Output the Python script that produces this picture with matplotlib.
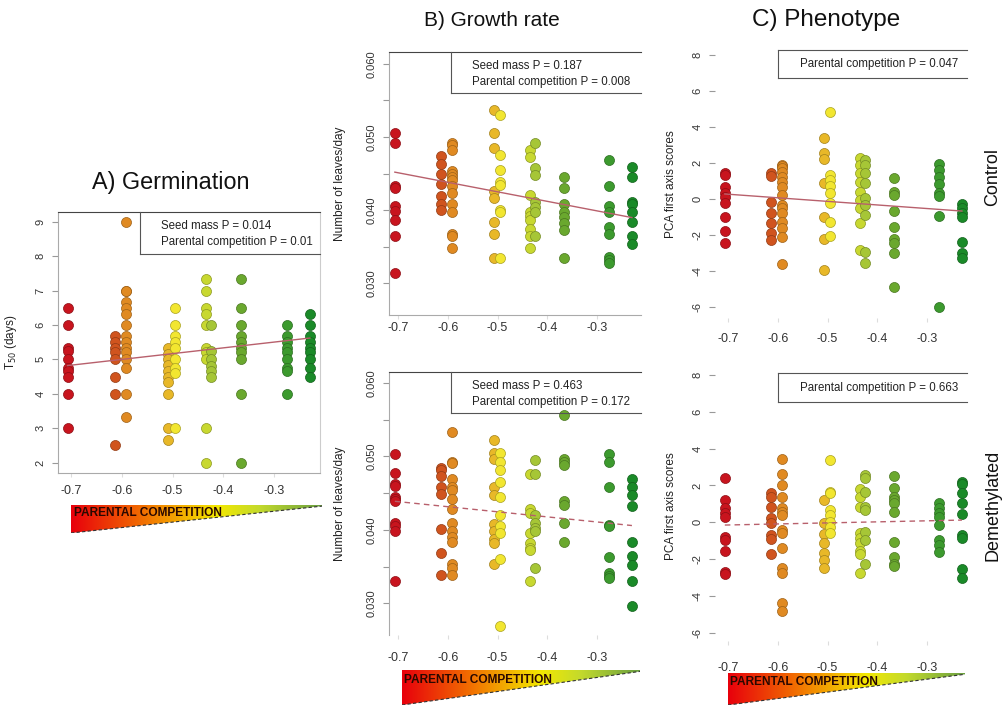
import numpy as np
import matplotlib.pyplot as plt
from matplotlib.colors import LinearSegmentedColormap, to_rgb
from matplotlib.patches import Polygon
from matplotlib.lines import Line2D

W, H = 1003, 706

# parental competition index of the 10 parent groups
parent_x = [-0.707, -0.613, -0.592, -0.508, -0.495, -0.434, -0.425, -0.365, -0.275, -0.229]
group_colors = ['#c8141e', '#d0541e', '#e08a22', '#e8b828', '#f2e630',
                '#c8d830', '#a6c636', '#6aa82e', '#3c9a2e', '#1a8a28']

germ = [
    [6.5, 6.0, 5.33, 5.25, 5.0, 4.75, 4.67, 4.5, 4.0, 3.0],
    [5.67, 5.5, 5.33, 5.2, 5.0, 4.5, 4.0, 2.5],
    [9.0, 7.0, 7.0, 6.67, 6.5, 6.33, 6.0, 5.67, 5.5, 5.33, 5.2, 5.0, 4.75, 4.0, 3.33],
    [5.33, 5.17, 5.0, 4.83, 4.67, 4.5, 4.33, 4.0, 3.0, 2.67],
    [6.5, 6.0, 5.67, 5.5, 5.33, 5.0, 4.75, 4.6, 3.0],
    [7.33, 7.0, 6.5, 6.33, 6.0, 5.33, 5.2, 5.0, 3.0, 2.0],
    [6.0, 5.25, 5.0, 4.8, 4.67, 4.5],
    [7.33, 6.5, 6.0, 5.67, 5.5, 5.33, 5.2, 5.0, 4.0, 2.0],
    [6.0, 5.67, 5.5, 5.33, 5.2, 5.0, 4.75, 4.67, 4.0],
    [6.33, 6.0, 5.67, 5.5, 5.33, 5.2, 5.0, 4.75, 4.5],
]
growth_ctrl = [
    [0.0506, 0.0492, 0.0433, 0.0430, 0.0406, 0.0399, 0.0386, 0.0365, 0.0315],
    [0.0474, 0.0463, 0.0449, 0.0436, 0.0420, 0.0409, 0.0401],
    [0.0492, 0.0489, 0.0482, 0.0454, 0.0449, 0.0445, 0.0441, 0.0433, 0.0423, 0.0408, 0.0398, 0.0368, 0.0365, 0.0348],
    [0.0537, 0.0505, 0.0485, 0.0426, 0.0417, 0.0384, 0.0368, 0.0335],
    [0.0530, 0.0476, 0.0455, 0.0439, 0.0434, 0.0401, 0.0398, 0.0335],
    [0.0482, 0.0473, 0.0421, 0.0398, 0.0392, 0.0387, 0.0374, 0.0365, 0.0348],
    [0.0492, 0.0457, 0.0448, 0.0411, 0.0405, 0.0398, 0.0365],
    [0.0445, 0.0430, 0.0408, 0.0398, 0.0391, 0.0383, 0.0373, 0.0335],
    [0.0468, 0.0433, 0.0406, 0.0398, 0.0377, 0.0368, 0.0336, 0.0332, 0.0328],
    [0.0459, 0.0445, 0.0411, 0.0408, 0.0398, 0.0384, 0.0365, 0.0354],
]
growth_dem = [
    [0.0504, 0.0477, 0.0462, 0.0460, 0.0445, 0.0442, 0.0439, 0.0409, 0.0405, 0.0399, 0.0330],
    [0.0485, 0.0482, 0.0473, 0.0459, 0.0449, 0.0401, 0.0368, 0.0339],
    [0.0533, 0.0493, 0.0491, 0.0470, 0.0458, 0.0455, 0.0442, 0.0429, 0.0409, 0.0398, 0.0391, 0.0384, 0.0354, 0.0348, 0.0339],
    [0.0523, 0.0505, 0.0496, 0.0459, 0.0448, 0.0408, 0.0398, 0.0387, 0.0382, 0.0354],
    [0.0505, 0.0493, 0.0482, 0.0465, 0.0445, 0.0420, 0.0406, 0.0396, 0.0360, 0.0269],
    [0.0476, 0.0429, 0.0423, 0.0396, 0.0382, 0.0376, 0.0373, 0.0330],
    [0.0495, 0.0476, 0.0420, 0.0409, 0.0402, 0.0398, 0.0348],
    [0.0557, 0.0496, 0.0493, 0.0489, 0.0439, 0.0434, 0.0409, 0.0384],
    [0.0504, 0.0492, 0.0458, 0.0407, 0.0405, 0.0363, 0.0341, 0.0337, 0.0334],
    [0.0470, 0.0459, 0.0448, 0.0433, 0.0384, 0.0365, 0.0352, 0.0330, 0.0296],
]
pca_ctrl = [
    [1.45, 1.3, 0.68, 0.3, 0.1, -0.25, -1.0, -1.8, -2.45],
    [1.42, 1.27, -0.16, -0.81, -1.33, -1.88, -2.29],
    [1.9, 1.83, 1.7, 1.5, 1.23, 0.95, 0.68, 0.21, -0.34, -0.53, -0.81, -1.27, -1.64, -2.1, -3.63],
    [3.36, 2.53, 2.2, 0.86, -0.99, -2.25, -3.96],
    [4.85, 1.33, 1.05, 0.71, 0.3, -0.21, -1.27, -2.07],
    [2.25, 1.88, 1.42, 0.95, 0.4, -0.07, -0.53, -1.36, -2.85],
    [2.16, 1.88, 1.42, 0.86, 0.03, -0.34, -0.9, -2.94, -3.55],
    [1.14, 0.4, 0.21, -0.66, -1.55, -2.25, -2.44, -3.0, -4.89],
    [1.94, 1.6, 1.23, 0.82, 0.34, 0.16, -0.96, -6.0],
    [-0.29, -0.53, -0.81, -0.99, -2.38, -3.03, -3.31],
]
pca_dem = [
    [2.38, 1.2, 0.75, 0.48, 0.3, -0.79, -0.97, -1.55, -2.69, -2.82],
    [1.57, 1.39, 0.84, 0.21, -0.06, -0.7, -0.93, -1.73],
    [3.42, 2.6, 2.02, 1.39, 0.75, 0.57, 0.39, -0.42, -0.57, -1.42, -2.51, -2.78, -4.41, -4.81],
    [1.2, -0.06, -0.64, -1.11, -1.69, -2.05, -2.51],
    [3.38, 1.66, 1.57, 0.66, 0.39, 0.03, -0.24, -0.6],
    [1.79, 1.39, 0.84, -0.6, -0.88, -1.15, -1.55, -1.73, -2.78],
    [2.56, 2.38, 1.66, 0.84, 0.66, -0.51, -0.97, -2.27],
    [2.51, 1.84, 1.39, 1.2, 1.03, 0.57, -1.06, -1.87, -2.24, -2.38],
    [1.03, 0.75, 0.52, 0.3, -0.15, -0.97, -1.24, -1.6],
    [2.2, 2.08, 1.6, 1.03, 0.45, -0.7, -0.83, -2.56, -3.05],
]
# fitted lines: y at first and last parental value
germ_fit = [4.82, 5.62]
growth_ctrl_fit = [0.0452, 0.0390]
growth_dem_fit = [0.0439, 0.0406]
pca_ctrl_fit = [0.27, -0.68]
pca_dem_fit = [-0.15, 0.12]

x_ticks = [-0.7, -0.6, -0.5, -0.4, -0.3]
font = ['Liberation Sans', 'DejaVu Sans']
plt.rcParams['font.family'] = font


def rect(l, t, r, b):
    return [l / W, 1 - b / H, (r - l) / W, (b - t) / H]


def fpt(x, y):
    return x / W, 1 - y / H


def panel(box, xlim, ylim, data, fit, dashed, yticks, ylabels, ylab, labx, xpad):
    ax = fig.add_axes(rect(*box))
    for i, vals in enumerate(data):
        ec = tuple(c * 0.7 for c in to_rgb(group_colors[i]))
        ax.scatter([parent_x[i]] * len(vals), vals, s=52, color=group_colors[i],
                   edgecolors=[ec], linewidths=0.5, zorder=3)
    ax.plot([parent_x[0], parent_x[-1]], fit, color='#b8606c', lw=1.0,
            ls=(0, (4, 3)) if dashed else '-', zorder=4)
    ax.set_xlim(*xlim)
    ax.set_ylim(*ylim)
    ax.set_xticks(x_ticks)
    ax.set_xticklabels([f'{v:.1f}' for v in x_ticks], fontsize=9, color='#333')
    ax.set_yticks(yticks)
    ax.set_yticklabels(ylabels, fontsize=8, color='#333', rotation=90, va='center')
    ax.tick_params(axis='y', length=4, color='#999', pad=5)
    ax.tick_params(axis='x', length=3, color='#ddd', pad=xpad)
    ax.set_ylabel(ylab, fontsize=8.5, color='#222')
    ax.yaxis.set_label_coords(labx, 0.5)
    for s in ax.spines.values():
        s.set_visible(False)
    return ax


def style_spines(ax, left=True, bottom=True, right=False, top=True):
    for name, on, col in [('left', left, '#aaa'), ('bottom', bottom, '#aaa'),
                          ('right', right, '#ccc'), ('top', top, '#444')]:
        ax.spines[name].set_visible(on)
        ax.spines[name].set_color(col)
        ax.spines[name].set_linewidth(0.8)


def legend_box(l, t, r, b, lines, tx, ty, top=False):
    segs = [((l, t), (l, b)), ((l, b), (r, b))]
    if top:
        segs.append(((l, t), (r, t)))
    for p, q in segs:
        x0, y0 = fpt(*p)
        x1, y1 = fpt(*q)
        fig.add_artist(Line2D([x0, x1], [y0, y1], color='#555', lw=0.8))
    for k, s in enumerate(lines):
        fig.text(*fpt(tx, ty + 16 * k), s, fontsize=8.3, color='#222', va='center')


cmap = LinearSegmentedColormap.from_list('comp', [(0, '#e8000c'), (0.3, '#f27400'),
                                                  (0.58, '#f4e800'), (0.75, '#c4da2c'),
                                                  (1, '#6aa040')])


def triangle(l, t, r, b):
    ax = fig.add_axes(rect(l, t, r, b))
    ax.set_xlim(0, 1)
    ax.set_ylim(0, 1)
    ax.axis('off')
    im = ax.imshow(np.linspace(0, 1, 256)[None, :], cmap=cmap, extent=[0, 1, 0, 1], aspect='auto')
    poly = Polygon([(0, 1), (1, 1), (1, 0.96), (0, 0)], transform=ax.transData)
    im.set_clip_path(poly)
    ax.plot([0, 1], [0, 0.96], color='#333', lw=0.8, ls=(0, (3, 2)))
    ax.text(0.01, 0.72, 'PARENTAL COMPETITION', fontsize=8.6, fontweight='bold',
            color='#2a0800', va='center', ha='left')


fig = plt.figure(figsize=(W / 100, H / 100), dpi=100)

# A) Germination
axA = panel((58, 212, 320, 473), (-0.726, -0.209), (1.70, 9.28), germ, germ_fit, False,
            list(range(2, 10)), [str(v) for v in range(2, 10)], 'T$_{50}$ (days)', -0.15, 6)
style_spines(axA, right=True)
legend_box(140, 212, 320, 254, ['Seed mass P = 0.014', 'Parental competition P = 0.01'], 161, 226)
fig.text(*fpt(171, 183), 'A) Germination', fontsize=16.8, ha='center', va='center', color='#111')
triangle(71, 505, 322, 533)

# B) Growth rate
gt = [0.030, 0.035, 0.040, 0.045, 0.050, 0.055, 0.060]
gl = ['0.030', '', '0.040', '', '0.050', '', '0.060']
axB1 = panel((389, 52, 641, 315), (-0.7188, -0.2107), (0.0257, 0.0616), growth_ctrl,
             growth_ctrl_fit, False, gt, gl, 'Number of leaves/day', -0.17, 2)
style_spines(axB1)
legend_box(451, 52, 641, 93, ['Seed mass P = 0.187', 'Parental competition P = 0.008'], 472, 66)
axB2 = panel((389, 372, 641, 635), (-0.7188, -0.2107), (0.0257, 0.0615), growth_dem,
             growth_dem_fit, True, gt, gl, 'Number of leaves/day', -0.17, 9)
style_spines(axB2, bottom=False)
legend_box(451, 372, 641, 413, ['Seed mass P = 0.463', 'Parental competition P = 0.172'], 472, 386)
fig.text(*fpt(492, 20), 'B) Growth rate', fontsize=15, ha='center', va='center', color='#111')
triangle(402, 670, 640, 705)

# C) Phenotype
pt = list(range(-6, 10, 2))
pl = [str(v) for v in pt]
axC1 = panel((715, 50, 967, 318), (-0.7268, -0.2188), (-6.63, 8.28), pca_ctrl,
             pca_ctrl_fit, False, pt, pl, 'PCA first axis scores', -0.15, 8)
legend_box(778, 50, 967, 78, ['Parental competition P = 0.047'], 800, 64, top=True)
axC2 = panel((715, 371, 967, 641), (-0.7268, -0.2188), (-6.45, 8.22), pca_dem,
             pca_dem_fit, True, pt, pl, 'PCA first axis scores', -0.15, 12)
legend_box(778, 373, 967, 402, ['Parental competition P = 0.663'], 800, 388, top=True)
fig.text(*fpt(826, 20), 'C) Phenotype', fontsize=17.5, ha='center', va='center', color='#111')
triangle(728, 673, 965, 705)

fig.text(*fpt(993, 177), 'Control', fontsize=13, rotation=90, ha='center', va='center', color='#111')
fig.text(*fpt(993, 505), 'Demethylated', fontsize=13, rotation=90, ha='center', va='center', color='#111')

fig.savefig('out.png', dpi=100)
